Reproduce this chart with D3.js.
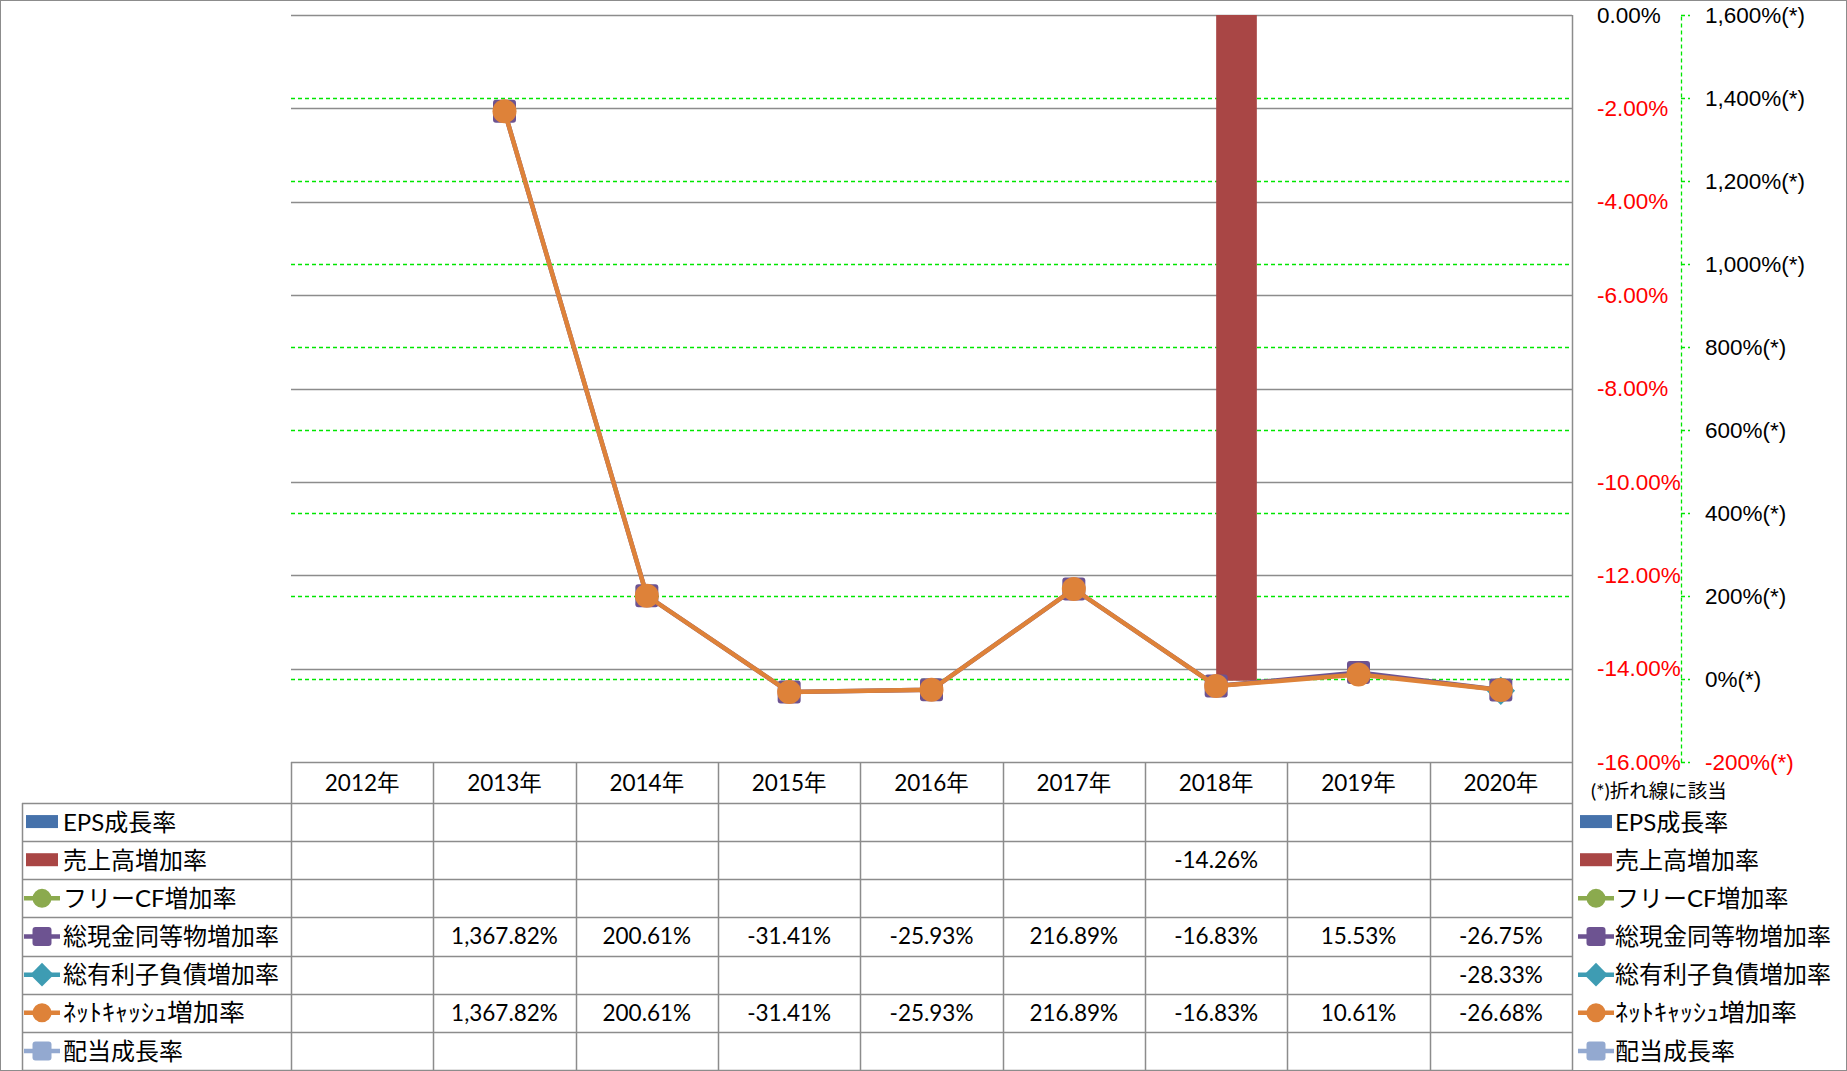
<!DOCTYPE html>
<html>
<head>
	<meta charset="utf-8">
	<title>成長率チャート</title>
	<style>
		body { margin: 0; background: #fff; }
		svg { display: block; font-family: Lato, "Noto Sans CJK JP", sans-serif; }
		.grid line { stroke: #8c8c8c; stroke-width: 1.5; }
		.grid2 line { stroke: #00e600; stroke-width: 1.3; stroke-dasharray: 4, 3; }
		.cell { fill: none; stroke: #8c8c8c; stroke-width: 1.5; }
		.tick text { font-size: 22.5px; }
	</style>
</head>
<body>
<div id="chart"></div>
<script src="https://cdnjs.cloudflare.com/ajax/libs/d3/7.8.5/d3.min.js"></script>
<script>
	// data
	var years = ["2012年", "2013年", "2014年", "2015年", "2016年", "2017年", "2018年", "2019年", "2020年"];
	var seriesNames = ["EPS成長率", "売上高増加率", "フリーCF増加率", "総現金同等物増加率", "総有利子負債増加率", "ﾈｯﾄｷｬｯｼｭ増加率", "配当成長率"];
	var epsGrowth = [null, null, null, null, null, null, null, null, null];
	var salesGrowth = [null, null, null, null, null, null, -14.26, null, null];
	var fcfGrowth = [null, null, null, null, null, null, null, null, null];
	var cashGrowth = [null, 1367.82, 200.61, -31.41, -25.93, 216.89, -16.83, 15.53, -26.75];
	var debtGrowth = [null, null, null, null, null, null, null, null, -28.33];
	var netCashGrowth = [null, 1367.82, 200.61, -31.41, -25.93, 216.89, -16.83, 10.61, -26.68];
	var divGrowth = [null, null, null, null, null, null, null, null, null];
	var leftTicks = [0, -2, -4, -6, -8, -10, -12, -14, -16];
	var rightTicks = [1600, 1400, 1200, 1000, 800, 600, 400, 200, 0, -200];

	var W = 1847, H = 1071;
	var plot = { left: 291, right: 1572, top: 15, bottom: 762 };
	var headH = 41, rowH = (1070 - plot.bottom - headH) / 7;

	var colors = ["#4672AB", "#A94645", "#8BAA4E", "#6D5391", "#3E9CB3", "#DE8239", "#93A9D0"];
	var kinds = ["bar", "bar", "circle", "square", "diamond", "circle", "square"];
	var values = [epsGrowth, salesGrowth, fcfGrowth, cashGrowth, debtGrowth, netCashGrowth, divGrowth];

	var locale = d3.formatLocale({ decimal: ".", thousands: ",", grouping: [3], currency: ["", ""], minus: "-" });
	var fmt2 = locale.format(",.2f");
	var fmtInt = locale.format(",");
	function fmt(v) {
		return fmt2(v) + "%";
	}

	var svg = d3.select("#chart").append("svg")
		.attr("width", W)
		.attr("height", H);

	svg.append("rect")
		.attr("x", 0.5).attr("y", 0.5)
		.attr("width", W - 1).attr("height", H - 1)
		.attr("fill", "#fff").attr("stroke", "#8c8c8c");

	var x = d3.scaleBand().domain(years).range([plot.left, plot.right]);
	var xBar = d3.scaleBand().domain([0, 1]).range([0, x.bandwidth()]).paddingOuter(0.75);
	var yL = d3.scaleLinear().domain([-16, 0]).range([plot.bottom, plot.top]);
	var yR = d3.scaleLinear().domain([-200, 1600]).range([plot.bottom, plot.top]);

	// secondary gridlines (dashed green)
	svg.append("g").attr("class", "grid2")
		.selectAll("line").data(rightTicks.filter(function(t) { return t > -200 && t < 1600; }))
		.enter().append("line")
		.attr("x1", plot.left).attr("x2", plot.right)
		.attr("y1", function(d) { return Math.round(yR(d)) + 0.5; })
		.attr("y2", function(d) { return Math.round(yR(d)) + 0.5; });

	// primary gridlines
	svg.append("g").attr("class", "grid")
		.selectAll("line").data(leftTicks.filter(function(t) { return t > -16; }))
		.enter().append("line")
		.attr("x1", plot.left).attr("x2", plot.right)
		.attr("y1", function(d) { return Math.round(yL(d)) + 0.5; })
		.attr("y2", function(d) { return Math.round(yL(d)) + 0.5; });

	// plot right border
	svg.append("line")
		.attr("x1", plot.right + 0.5).attr("x2", plot.right + 0.5)
		.attr("y1", plot.top).attr("y2", 1070)
		.attr("stroke", "#8c8c8c").attr("stroke-width", 1.5);

	// left value axis (labels on the right of plot)
	var axL = svg.append("g")
		.attr("transform", "translate(" + plot.right + ",0)")
		.call(d3.axisRight(yL).tickValues(leftTicks).tickSize(0).tickPadding(25)
			.tickFormat(function(d) { return fmt(d); }));
	axL.select(".domain").remove();
	axL.selectAll("text").attr("fill", function(d) { return d < 0 ? "#ff0000" : "#000"; });

	// right value axis
	var axR = svg.append("g")
		.attr("transform", "translate(1681,0)")
		.call(d3.axisRight(yR).tickValues(rightTicks).tickSize(9).tickPadding(15)
			.tickSizeOuter(0)
			.tickFormat(function(d) { return fmtInt(d) + "%(*)"; }));
	axR.select(".domain").attr("stroke", "#00e600").attr("stroke-width", 1.3).attr("stroke-dasharray", "4,3");
	axR.selectAll(".tick line").attr("stroke", "#00e600").attr("stroke-width", 1.3).attr("stroke-dasharray", "4,3");
	axR.selectAll("text").attr("fill", function(d) { return d < 0 ? "#ff0000" : "#000"; });

	svg.append("text")
		.attr("x", 1591).attr("y", 791)
		.attr("dy", "0.35em")
		.attr("font-size", 19.5)
		.text("(*)折れ線に該当");

	// bars
	[0, 1].forEach(function(s) {
		svg.append("g").selectAll("rect")
			.data(values[s].map(function(v, i) { return { v: v, year: years[i] }; }).filter(function(d) { return d.v != null; }))
			.enter().append("rect")
			.attr("x", function(d) { return x(d.year) + xBar(s); })
			.attr("width", xBar.bandwidth())
			.attr("y", yL(0))
			.attr("height", function(d) { return yL(d.v) - yL(0); })
			.attr("fill", colors[s]);
	});

	function drawMarker(g, kind, color, cx, cy, size) {
		if (kind === "circle") {
			g.append("circle").attr("cx", cx).attr("cy", cy).attr("r", size / 2).attr("fill", color);
		} else if (kind === "square") {
			g.append("rect").attr("x", cx - size / 2).attr("y", cy - size / 2)
				.attr("width", size).attr("height", size).attr("rx", 3).attr("fill", color);
		} else if (kind === "diamond") {
			var r = size * 0.62;
			g.append("path").attr("d", "M" + cx + "," + (cy - r) + "L" + (cx + r) + "," + cy +
				"L" + cx + "," + (cy + r) + "L" + (cx - r) + "," + cy + "Z").attr("fill", color);
		}
	}

	var line = d3.line()
		.defined(function(d) { return d.v != null; })
		.x(function(d) { return x(d.year) + x.bandwidth() / 2; })
		.y(function(d) { return yR(d.v); });

	[2, 3, 4, 6, 5].forEach(function(s) {
		var pts = values[s].map(function(v, i) { return { v: v, year: years[i] }; });
		var g = svg.append("g");
		g.append("path").datum(pts)
			.attr("d", line)
			.attr("fill", "none")
			.attr("stroke", colors[s])
			.attr("stroke-width", 4.5)
			.attr("stroke-linejoin", "round");
		pts.filter(function(d) { return d.v != null; }).forEach(function(d) {
			drawMarker(g, kinds[s], colors[s], x(d.year) + x.bandwidth() / 2, yR(d.v), kinds[s] === "circle" ? 24 : 23);
		});
	});

	// data table
	var table = svg.append("g");
	var rowTop = function(i) { return plot.bottom + headH + i * rowH; };

	table.append("line").attr("class", "cell")
		.attr("x1", plot.left).attr("x2", plot.right)
		.attr("y1", plot.bottom + 0.5).attr("y2", plot.bottom + 0.5);
	d3.range(8).forEach(function(i) {
		table.append("line").attr("class", "cell")
			.attr("x1", 22).attr("x2", plot.right)
			.attr("y1", Math.round(rowTop(i)) + 0.5).attr("y2", Math.round(rowTop(i)) + 0.5);
	});
	table.append("line").attr("class", "cell")
		.attr("x1", 22.5).attr("x2", 22.5)
		.attr("y1", rowTop(0)).attr("y2", 1070);
	years.forEach(function(yr) {
		table.append("line").attr("class", "cell")
			.attr("x1", Math.round(x(yr)) + 0.5).attr("x2", Math.round(x(yr)) + 0.5)
			.attr("y1", plot.bottom).attr("y2", 1070);
	});

	table.selectAll(".yr").data(years).enter().append("text")
		.attr("x", function(d) { return x(d) + x.bandwidth() / 2; })
		.attr("y", plot.bottom + headH / 2 + 1)
		.attr("dy", "0.35em")
		.attr("text-anchor", "middle")
		.attr("font-size", 22.5)
		.text(function(d) { return d; });

	function legendKey(g, s, lx, cy) {
		if (kinds[s] === "bar") {
			g.append("rect").attr("x", lx + 2).attr("y", cy - 7).attr("width", 32).attr("height", 13).attr("fill", colors[s]);
		} else {
			g.append("line").attr("x1", lx).attr("x2", lx + 36).attr("y1", cy).attr("y2", cy)
				.attr("stroke", colors[s]).attr("stroke-width", 4.5);
			drawMarker(g, kinds[s], colors[s], lx + 18, cy, 19);
		}
	}

	function legendText(g, s, lx, cy) {
		var t = g.append("text").attr("x", lx).attr("y", cy).attr("dy", "0.36em")
			.attr("font-size", 24).text(seriesNames[s]);
		// the half-width katakana label is wider in the original font
		if (s === 5) t.attr("textLength", 182).attr("lengthAdjust", "spacingAndGlyphs");
	}

	seriesNames.forEach(function(name, s) {
		var cy = rowTop(s) + rowH / 2;
		legendKey(table, s, 24, cy);
		legendText(table, s, 63, cy);
		legendKey(table, s, 1578, cy);
		legendText(table, s, 1615, cy);
		values[s].forEach(function(v, i) {
			if (v == null) return;
			table.append("text")
				.attr("x", x(years[i]) + x.bandwidth() / 2)
				.attr("y", cy).attr("dy", "0.35em")
				.attr("text-anchor", "middle")
				.attr("font-size", 22.5)
				.text(fmt(v));
		});
	});
</script>
</body>
</html>
